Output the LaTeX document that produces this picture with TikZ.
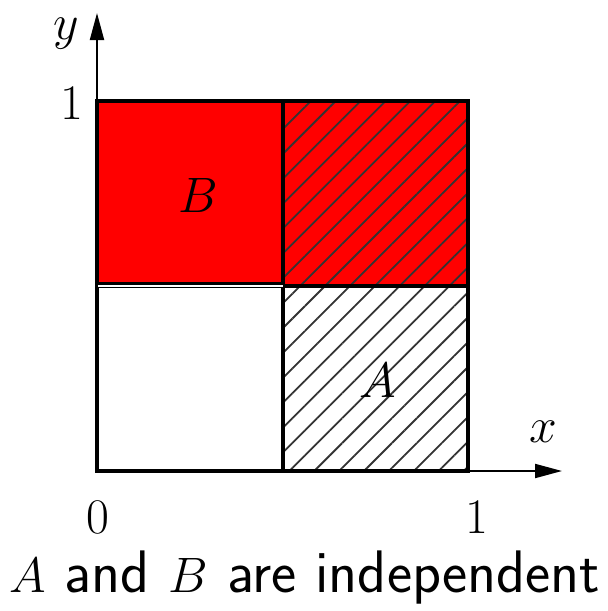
\documentclass[tikz,border=0pt]{standalone}
\usetikzlibrary{patterns.meta,arrows.meta}
\begin{document}
\begin{tikzpicture}[x=0.5pt,y=-0.5pt,
  box/.style={draw=black,line width=1.7pt},
  hatch/.style={pattern={Lines[angle=45,distance=8.8pt,line width=0.9pt]},pattern color=black!80},
  axis/.style={line width=1pt,-{Triangle[length=13.5pt,width=7pt]}},
  lbl/.style={font=\fontsize{29}{33}\selectfont},
  captext/.style={font=\fontsize{30}{34}\selectfont\sffamily}]
\useasboundingbox (0,0) rectangle (608,611);
% regions
\fill[red] (97,101) rectangle (468,286);
\path[hatch] (283,101) rectangle (468,471);
\draw[box] (97,286) rectangle (283,471);
\draw[box] (283,286) rectangle (468,471);
\draw[box] (283,101) rectangle (468,286);
\draw[box] (97,101) rectangle (283,284);
\draw[white,line width=0.6pt] (97,286) -- (283,286);
% axes
\coordinate (o) at (97,471);
\coordinate (xe) at (562,471);
\coordinate (ye) at (97,13);
\draw[axis] (o) -- (xe);
\draw[axis] (o) -- (ye);
% labels
\node[lbl] (ly) at (66,34) {$y$};
\node[lbl] (l1y) at (72,103) {$1$};
\node[lbl] (lx) at (543,432) {$x$};
\node[lbl] (l0) at (98,517) {$0$};
\node[lbl] (l1x) at (477,517) {$1$};
\node[lbl] (lB) at (198,195) {$B$};
\node[lbl] (lA) at (378,380) {$A$};
\node[captext] (caption) at (305,578) {$A$ and $B$ are independent};
\end{tikzpicture}
\end{document}
